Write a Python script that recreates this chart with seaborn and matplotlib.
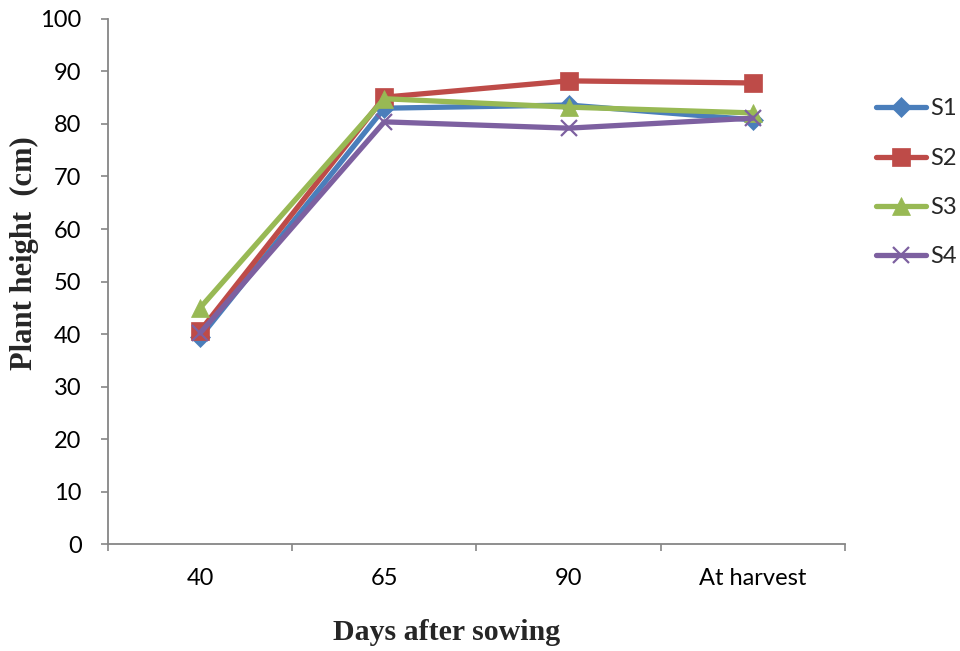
import matplotlib
matplotlib.use("Agg")
import matplotlib.pyplot as plt
import seaborn as sns
import pandas as pd

categories = ["40", "65", "90", "At harvest"]
series_names = ["S1", "S2", "S3", "S4"]
s1 = [39.4, 83.0, 83.6, 80.8]
s2 = [40.6, 85.1, 88.2, 87.8]
s3 = [45.0, 84.8, 83.2, 82.1]
s4 = [40.2, 80.4, 79.2, 81.1]
y_ticks = [0, 10, 20, 30, 40, 50, 60, 70, 80, 90, 100]

colors = {"S1": "#4A7EBB", "S2": "#BE4B48", "S3": "#98B954", "S4": "#7D60A0"}
markers = {"S1": "D", "S2": "s", "S3": "^", "S4": "x"}
msizes = {"S1": 10, "S2": 13, "S3": 13, "S4": 12}

rows = []
for name, vals in zip(series_names, [s1, s2, s3, s4]):
    for i, v in enumerate(vals):
        rows.append({"pos": i, "height": v, "series": name})
df = pd.DataFrame(rows)

sns.set_style("white")
plt.rcParams["font.family"] = ["Lato", "DejaVu Sans"]
plt.rcParams["ytick.major.pad"] = 14
plt.rcParams["xtick.major.pad"] = 17
plt.rcParams["ytick.left"] = True
plt.rcParams["xtick.bottom"] = True

fig = plt.figure(figsize=(9.6, 6.51), dpi=100)
ax = fig.add_axes([0.1125, 0.164, 0.7675, 0.807])

for name in series_names:
    sub = df[df["series"] == name]
    sns.lineplot(data=sub, x="pos", y="height", ax=ax, color=colors[name],
                 linewidth=3.8, marker=markers[name], markersize=msizes[name],
                 markeredgecolor=colors[name], markeredgewidth=1.6 if name == "S4" else 0.5,
                 label=name)

ax.set_xlim(-0.5, 3.5)
ax.set_ylim(0, 100)
ax.set_yticks(y_ticks)
ax.set_yticklabels([str(t) for t in y_ticks], fontsize=17, color="black")
ax.set_xticks([0, 1, 2, 3])
ax.set_xticklabels(categories, fontsize=17, color="black")
ax.set_xticks([-0.5, 0.5, 1.5, 2.5, 3.5], minor=True)
ax.tick_params(axis="x", which="major", length=0)
ax.tick_params(axis="x", which="minor", bottom=True, length=5, width=1.2,
               color="#868686", direction="out")
ax.tick_params(axis="y", which="major", left=True, length=5, width=1.2,
               color="#868686", direction="out")

for side in ["top", "right"]:
    ax.spines[side].set_visible(False)
for side in ["left", "bottom"]:
    ax.spines[side].set_color("#868686")
    ax.spines[side].set_linewidth(1.3)

ax.set_xlabel("")
ax.set_ylabel("")
fig.text(447 / 960, 1 - 632 / 651, "Days after sowing", fontsize=21.5, fontweight="bold",
         family="Liberation Serif", ha="center", va="center")
fig.text(24 / 960, 1 - 253 / 651, "Plant height  (cm)", fontsize=22, fontweight="bold",
         family="Liberation Serif", ha="center", va="center", rotation=90)

leg = ax.legend(loc="upper left", bbox_to_anchor=(1.02, 0.88), frameon=False,
                fontsize=17, handlelength=2.1, labelspacing=1.2, handletextpad=0.2,
                borderaxespad=0.3)

fig.savefig("out.png", dpi=100)
